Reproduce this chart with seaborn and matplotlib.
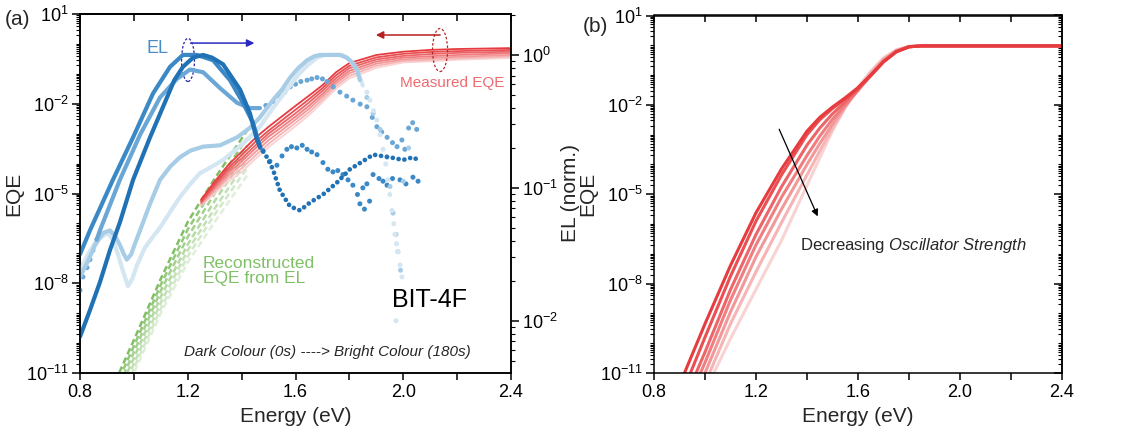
import numpy as np
import pandas as pd
import seaborn as sns
import matplotlib.pyplot as plt
from matplotlib.patches import Ellipse
from matplotlib.ticker import FixedLocator, FuncFormatter, NullFormatter

# ---------------- data (values are log10) ----------------
times = ['0s', '30s', '60s', '90s', '120s', '150s', '180s']
red_colours = ['#e63b3f', '#e94f53', '#ec6568', '#f07d80', '#f39899', '#f6b4b5', '#f9d2d2']
green_colours = ['#80bf64', '#92c979', '#a3d08f', '#b3d9a3', '#c3e1b7', '#d2e8ca', '#e0efda']

# (a) measured EQE
meas_energy = [1.25, 1.3, 1.35, 1.4, 1.45, 1.5, 1.55, 1.6, 1.65, 1.7, 1.75, 1.8, 1.9, 2.0, 2.1, 2.2, 2.4]
meas_log = [
    [-5.20, -4.60, -4.05, -3.60, -3.15, -2.77, -2.42, -2.07, -1.73, -1.38, -0.95, -0.64, -0.37, -0.26, -0.20, -0.17, -0.14],
    [-5.25, -4.68, -4.15, -3.72, -3.28, -2.90, -2.55, -2.20, -1.85, -1.48, -1.05, -0.73, -0.45, -0.33, -0.27, -0.24, -0.20],
    [-5.28, -4.74, -4.23, -3.83, -3.40, -3.00, -2.66, -2.32, -1.96, -1.57, -1.15, -0.81, -0.52, -0.40, -0.34, -0.30, -0.26],
    [-5.31, -4.80, -4.32, -3.93, -3.50, -3.10, -2.77, -2.43, -2.07, -1.67, -1.24, -0.90, -0.59, -0.46, -0.41, -0.37, -0.31],
    [-5.34, -4.86, -4.41, -4.04, -3.62, -3.22, -2.88, -2.53, -2.17, -1.76, -1.32, -0.98, -0.66, -0.52, -0.47, -0.43, -0.37],
    [-5.37, -4.93, -4.50, -4.16, -3.74, -3.34, -2.99, -2.64, -2.28, -1.86, -1.41, -1.07, -0.73, -0.57, -0.53, -0.48, -0.42],
    [-5.40, -5.00, -4.60, -4.28, -3.85, -3.45, -3.10, -2.75, -2.38, -1.95, -1.50, -1.15, -0.80, -0.62, -0.58, -0.53, -0.47],
]

# (a) EQE reconstructed from EL
rec_energy = [0.9, 1.0, 1.1, 1.2, 1.3, 1.42]
rec_log = [
    [-11.9, -9.90, -7.85, -5.95, -4.50, -2.90],
    [-12.1, -10.1, -8.05, -6.20, -4.75, -3.15],
    [-12.3, -10.3, -8.25, -6.45, -5.00, -3.40],
    [-12.5, -10.5, -8.45, -6.70, -5.25, -3.65],
    [-12.7, -10.7, -8.65, -6.90, -5.50, -3.90],
    [-12.9, -10.85, -8.85, -7.10, -5.70, -4.15],
    [-13.1, -11.0, -9.00, -7.30, -5.95, -4.40],
]

# (a) EL spectra (normalised), smooth part drawn as lines, noisy part as dots
el_names = ['EL1', 'EL2', 'EL3', 'EL4', 'EL5']
el_colours = ['#2171b5', '#3a89c6', '#6aa7d6', '#a7cce6', '#d3e6f1']

el1_e = [0.8, 0.837, 0.874, 0.911, 0.948, 0.997, 1.06, 1.123, 1.15, 1.182, 1.22, 1.257, 1.29, 1.331, 1.394, 1.431, 1.457, 1.468]
el1_l = [-2.12, -1.92, -1.71, -1.47, -1.26, -0.94, -0.62, -0.32, -0.19, -0.09, -0.02, 0.0, -0.02, -0.07, -0.26, -0.44, -0.64, -0.69]
el1_dot_e = [1.468, 1.494, 1.516, 1.542, 1.58, 1.617, 1.654, 1.702, 1.754, 1.802, 1.85, 1.888, 1.951, 1.999, 2.036, 2.055]
el1_dot_l = [-0.69, -0.77, -0.86, -1.02, -1.14, -1.17, -1.11, -1.05, -0.96, -0.86, -0.80, -0.75, -0.77, -0.79, -0.77, -0.79]

el2_e = [0.8, 0.837, 0.922, 0.997, 1.071, 1.134, 1.182, 1.234, 1.294, 1.357, 1.405, 1.442, 1.47]
el2_l = [-1.50, -1.32, -0.94, -0.62, -0.29, -0.09, 0.0, 0.0, -0.04, -0.19, -0.36, -0.51, -0.70]
el2_dot_e = [1.479, 1.505, 1.531, 1.55, 1.568, 1.585, 1.605, 1.625, 1.643, 1.66, 1.68, 1.702, 1.72, 1.739,
             1.757, 1.776, 1.795, 1.813, 1.83, 1.839, 1.85, 1.856, 1.865, 1.875, 1.888, 1.91, 1.925, 1.94,
             1.96, 1.988, 2.01, 2.036, 2.055]
el2_dot_l = [-0.72, -0.80, -0.83, -0.76, -0.71, -0.69, -0.70, -0.68, -0.71, -0.73, -0.75, -0.81, -0.86, -0.88,
             -0.87, -0.90, -0.94, -0.98, -1.05, -1.12, -1.00, -1.16, -0.97, -1.10, -0.90, -0.93, -0.95, -0.98,
             -0.93, -0.94, -0.97, -0.92, -0.95]

el3_e = [0.862, 0.874, 0.948, 1.023, 1.097, 1.16, 1.208, 1.257, 1.32, 1.383, 1.431, 1.468]
el3_l = [-1.39, -1.32, -0.94, -0.60, -0.32, -0.18, -0.11, -0.13, -0.25, -0.36, -0.40, -0.40]
el3_dot_e = [0.8, 0.811, 0.826, 0.837, 0.848, 0.862,
             1.49, 1.516, 1.54, 1.56, 1.58, 1.60, 1.62, 1.643, 1.66, 1.68, 1.70, 1.717, 1.74, 1.765, 1.79,
             1.813, 1.84, 1.865, 1.885, 1.902, 1.92, 1.94, 1.96, 1.977, 1.995, 2.006, 2.02, 2.035, 2.05]
el3_dot_l = [-1.77, -1.67, -1.60, -1.54, -1.47, -1.39,
             -0.38, -0.35, -0.31, -0.28, -0.24, -0.22, -0.20, -0.19, -0.18, -0.17, -0.18, -0.20, -0.24, -0.28, -0.31,
             -0.34, -0.37, -0.39, -0.47, -0.54, -0.58, -0.62, -0.66, -0.69, -0.64, -0.71, -0.55, -0.51, -0.56]

el4_e = [0.8, 0.83, 0.856, 0.885, 0.911, 0.93, 0.948, 0.963, 0.974, 0.99, 1.004, 1.023, 1.06, 1.097, 1.135,
         1.171, 1.21, 1.257, 1.32, 1.383, 1.43, 1.468, 1.516, 1.55, 1.58, 1.61, 1.643, 1.67, 1.691, 1.73,
         1.765, 1.79, 1.813, 1.83, 1.839]
el4_l = [-1.67, -1.55, -1.43, -1.34, -1.32, -1.36, -1.43, -1.50, -1.54, -1.50, -1.42, -1.32, -1.12, -0.94, -0.84,
         -0.77, -0.72, -0.69, -0.68, -0.62, -0.55, -0.47, -0.34, -0.26, -0.17, -0.10, -0.04, -0.01, 0.0, 0.0,
         0.0, -0.02, -0.06, -0.12, -0.19]
el4_dot_e = [1.865, 1.888, 1.914, 1.94, 1.951, 1.962, 1.973, 1.98, 1.99, 2.0, 2.02]
el4_dot_l = [-0.32, -0.44, -0.56, -0.77, -0.99, -1.19, -1.35, -1.48, -1.62, -0.95, -0.70]

el5_e = [0.8, 0.83, 0.86, 0.9, 0.92, 0.941, 0.96, 0.978, 0.995, 1.012, 1.041, 1.07, 1.097, 1.135, 1.171,
         1.21, 1.245, 1.29, 1.331, 1.38, 1.42, 1.468, 1.516, 1.55, 1.58, 1.61, 1.643, 1.68, 1.71, 1.739,
         1.77, 1.791, 1.81, 1.828, 1.85]
el5_l = [-1.62, -1.50, -1.40, -1.34, -1.38, -1.50, -1.63, -1.74, -1.68, -1.58, -1.45, -1.37, -1.30, -1.18, -1.07,
         -0.97, -0.89, -0.84, -0.79, -0.71, -0.64, -0.54, -0.40, -0.31, -0.23, -0.15, -0.08, -0.02, 0.0, 0.0,
         0.0, -0.02, -0.06, -0.11, -0.23]
el5_dot_e = [1.865, 1.876, 1.89, 1.902, 1.914, 1.925, 1.935, 1.943, 1.95, 1.958, 1.965, 1.969, 1.975, 1.98,
             1.988, 1.995, 1.973]
el5_dot_l = [-0.28, -0.34, -0.42, -0.49, -0.60, -0.71, -0.82, -0.94, -1.05, -1.17, -1.27, -1.35, -1.42, -1.48,
             -1.58, -1.67, -2.00]

# (b) simulated EQE for decreasing oscillator strength
sim_energy = [0.9, 1.0, 1.1, 1.2, 1.3, 1.4, 1.45, 1.5, 1.55, 1.6, 1.65, 1.7, 1.75, 1.8, 1.85, 2.4]
sim_log = [
    [-11.4, -9.35, -7.39, -5.62, -4.15, -2.88, -2.42, -2.07, -1.76, -1.42, -1.00, -0.55, -0.22, -0.05, -0.02, -0.02],
    [-11.9, -9.80, -7.75, -5.90, -4.35, -3.00, -2.50, -2.12, -1.80, -1.45, -1.02, -0.56, -0.22, -0.05, -0.02, -0.02],
    [-12.3, -10.3, -8.20, -6.35, -4.75, -3.35, -2.78, -2.30, -1.90, -1.48, -1.02, -0.55, -0.21, -0.05, -0.02, -0.02],
    [-12.6, -10.65, -8.55, -6.70, -5.10, -3.70, -3.05, -2.48, -2.00, -1.52, -1.00, -0.53, -0.20, -0.05, -0.02, -0.02],
    [-13.0, -11.0, -8.95, -7.10, -5.50, -4.00, -3.30, -2.65, -2.05, -1.50, -0.97, -0.50, -0.19, -0.04, -0.02, -0.02],
    [-13.3, -11.35, -9.35, -7.60, -5.95, -4.35, -3.55, -2.78, -2.08, -1.45, -0.92, -0.46, -0.17, -0.04, -0.02, -0.02],
    [-13.7, -11.6, -9.85, -8.19, -6.55, -4.70, -3.78, -2.87, -2.09, -1.40, -0.87, -0.42, -0.15, -0.04, -0.02, -0.02],
]


def to_long(energy, rows, names):
    recs = [(n, e, 10.0 ** v) for n, row in zip(names, rows) for e, v in zip(energy, row)]
    return pd.DataFrame(recs, columns=['series', 'energy', 'value'])


def pairs_long(names, pairs):
    recs = [(n, e, 10.0 ** v) for n, (es, ls) in zip(names, pairs) for e, v in zip(es, ls)]
    return pd.DataFrame(recs, columns=['series', 'energy', 'value'])


meas_df = to_long(meas_energy, meas_log, times)
rec_df = to_long(rec_energy, rec_log, times)
sim_df = to_long(sim_energy, sim_log, times)
el_line_df = pairs_long(el_names, [(el1_e, el1_l), (el2_e, el2_l), (el3_e, el3_l), (el4_e, el4_l), (el5_e, el5_l)])
el_dot_df = pairs_long(el_names[1:], [(el2_dot_e, el2_dot_l), (el3_dot_e, el3_dot_l),
                                      (el4_dot_e, el4_dot_l), (el5_dot_e, el5_dot_l)])
el1_dot_df = pairs_long(['EL1'], [(el1_dot_e, el1_dot_l)])

red_pal = dict(zip(times, red_colours))
green_pal = dict(zip(times, green_colours))
el_pal = dict(zip(el_names, el_colours))

# ---------------- style ----------------
sns.set_theme(style='ticks')
plt.rcParams['font.family'] = ['Liberation Sans', 'DejaVu Sans']
plt.rcParams['mathtext.fontset'] = 'custom'
plt.rcParams['mathtext.rm'] = 'Liberation Sans'
plt.rcParams['mathtext.it'] = 'Liberation Sans:italic'
plt.rcParams['mathtext.bf'] = 'Liberation Sans:bold'
plt.rcParams['axes.linewidth'] = 1.1
plt.rcParams['axes.edgecolor'] = 'black'
plt.rcParams['xtick.color'] = 'black'
plt.rcParams['ytick.color'] = 'black'

fig = plt.figure(figsize=(11.28, 4.42), dpi=100)
ax = fig.add_axes([80 / 1128, 69 / 442, 431 / 1128, 359 / 442])
axb = fig.add_axes([654 / 1128, 69 / 442, 408 / 1128, 357.5 / 442])

log_fmt = FuncFormatter(lambda v, p: r'$10^{%d}$' % int(round(np.log10(v))))
eqe_major = [1e-11, 1e-8, 1e-5, 1e-2, 1e1]
eqe_minor = [m * 10.0 ** e for e in range(-11, 1) for m in range(1, 10)
             if not (m == 1 and 10.0 ** e in eqe_major)]
el_minor = [m * 10.0 ** e for e in range(-3, 1) for m in range(2, 10)]


def log_ticks(axis, major, minor, fmt=True):
    axis.set_major_locator(FixedLocator(major))
    axis.set_minor_locator(FixedLocator(minor))
    axis.set_minor_formatter(NullFormatter())
    axis.set_major_formatter(log_fmt if fmt else NullFormatter())


def style_eqe_axis(a):
    a.set_xlim(0.8, 2.4)
    a.set_yscale('log')
    a.set_ylim(1e-11, 1e1)
    a.set_xticks([0.8, 1.2, 1.6, 2.0, 2.4])
    a.set_xticks([1.0, 1.4, 1.8, 2.2], minor=True)
    log_ticks(a.yaxis, eqe_major, eqe_minor)
    a.tick_params(axis='x', which='both', direction='out', length=5, width=1.1, labelsize=13, pad=3)
    a.tick_params(axis='y', which='major', direction='out', length=6, width=1.1, labelsize=13, pad=2)
    a.tick_params(axis='y', which='minor', direction='out', length=3, width=0.8)
    a.set_xlabel('Energy (eV)', fontsize=15, labelpad=4)
    a.set_ylabel('EQE', fontsize=15, labelpad=2)
    top = a.secondary_xaxis('top')
    top.set_xticks([0.8, 1.0, 1.2, 1.4, 1.6, 1.8, 2.0, 2.2, 2.4])
    top.tick_params(direction='in', length=5, width=1.1, labeltop=False)


# ---------------- panel (a) ----------------
sns.lineplot(data=rec_df, x='energy', y='value', hue='series', hue_order=times[::-1], palette=green_pal,
             legend=False, ax=ax, lw=1.8, estimator=None, linestyle=(0, (2.6, 1.4)))
sns.lineplot(data=meas_df, x='energy', y='value', hue='series', hue_order=times[::-1], palette=red_pal,
             legend=False, ax=ax, lw=1.3, estimator=None)
style_eqe_axis(ax)

ax2 = ax.twinx()
sns.lineplot(data=el_line_df, x='energy', y='value', hue='series', hue_order=el_names[::-1], palette=el_pal,
             legend=False, ax=ax2, lw=3.0, estimator=None, sort=False)
sns.lineplot(data=el1_dot_df, x='energy', y='value', color=el_colours[0], legend=False, ax=ax2,
             lw=3.4, estimator=None, linestyle=(0, (0.01, 1.25)), dash_capstyle='round')
sns.scatterplot(data=el_dot_df, x='energy', y='value', hue='series', hue_order=el_names[:0:-1],
                palette=el_pal, legend=False, ax=ax2, s=13, linewidth=0)
ax2.set_yscale('log')
ax2.set_ylim(10 ** -2.393, 10 ** 0.308)
ax2.set_xlim(0.8, 2.4)
log_ticks(ax2.yaxis, [1e-2, 1e-1, 1e0], el_minor)
ax2.tick_params(axis='y', which='major', direction='out', length=6, width=1.1, labelsize=13, pad=2)
ax2.tick_params(axis='y', which='minor', direction='out', length=3, width=0.8)
ax2.set_ylabel('EL (norm.)', fontsize=15, labelpad=2)

# annotations
ax2.text(0.179, 0.905, 'EL', transform=ax.transAxes, fontsize=13, color='#4a8cc8', ha='center', va='center')
ax2.add_patch(Ellipse((0.2506, 0.872), 0.030, 0.120, transform=ax.transAxes, fill=False,
                      ls=(0, (2, 1.5)), ec='#2323a8', lw=0.9))
ax2.annotate('', xy=(0.411, 0.919), xytext=(0.25, 0.919), xycoords='axes fraction',
             arrowprops=dict(arrowstyle='-|>', color='#2a2ac0', lw=1.1, mutation_scale=11))
ax2.add_patch(Ellipse((0.8353, 0.8997), 0.035, 0.120, transform=ax.transAxes, fill=False,
                      ls=(0, (2, 1.5)), ec='#b02a2a', lw=0.9))
ax2.annotate('', xy=(0.680, 0.9415), xytext=(0.842, 0.9415), xycoords='axes fraction',
             arrowprops=dict(arrowstyle='-|>', color='#b52020', lw=1.1, mutation_scale=11))
ax2.text(0.863, 0.808, 'Measured EQE', transform=ax.transAxes, fontsize=11, color='#ee6b6e',
         ha='center', va='center')
ax2.text(0.285, 0.284, 'Reconstructed\nEQE from EL', transform=ax.transAxes, fontsize=12.5,
         color='#80c066', ha='left', va='center', linespacing=1.05)
ax2.text(0.812, 0.203, 'BIT-4F', transform=ax.transAxes, fontsize=18, color='black',
         ha='center', va='center')
ax2.text(0.573, 0.0585, 'Dark Colour (0s) ----> Bright Colour (180s)', transform=ax.transAxes,
         fontsize=11, style='italic', ha='center', va='center')
fig.text(0.0045, 0.955, '(a)', fontsize=15, ha='left', va='center')

# ---------------- panel (b) ----------------
sns.lineplot(data=sim_df, x='energy', y='value', hue='series', hue_order=times[::-1], palette=red_pal,
             legend=False, ax=axb, lw=2.2, estimator=None)
style_eqe_axis(axb)
right = axb.secondary_yaxis('right')
log_ticks(right.yaxis, eqe_major, eqe_minor, fmt=False)
right.tick_params(which='major', direction='in', length=6, width=1.1)
right.tick_params(which='minor', direction='in', length=3, width=0.8)
axb.annotate('', xy=(0.404, 0.431), xytext=(0.304, 0.689), xycoords='axes fraction',
             arrowprops=dict(arrowstyle='-|>', color='black', lw=0.9, mutation_scale=10))
axb.text(0.635, 0.356, r'Decreasing $\it{Oscillator\ Strength}$', transform=axb.transAxes,
         fontsize=12, ha='center', va='center')
fig.text(0.528, 0.941, '(b)', fontsize=15, ha='center', va='center')

fig.savefig('out.png', dpi=100)
